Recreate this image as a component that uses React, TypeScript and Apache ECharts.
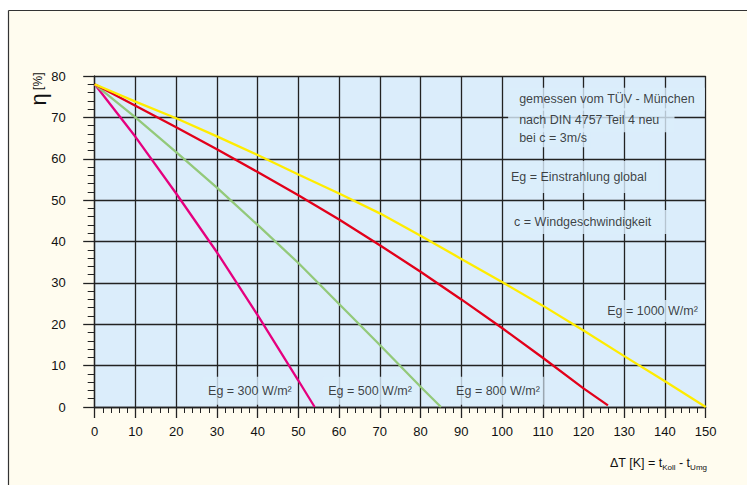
import React, { useEffect, useRef } from "react";
import * as echarts from "echarts";

// ---- data ----
const dT300 = [0, 10, 20, 30, 40, 50, 54];
const eta300 = [78, 65.3, 51.6, 37.4, 22.2, 6.4, 0];

const dT500 = [0, 10, 20, 30, 40, 50, 60, 70, 80, 85];
const eta500 = [78, 70, 61.6, 53, 44, 34.8, 24.9, 15, 4.9, 0];

const dT800 = [0, 10, 20, 30, 40, 50, 60, 70, 80, 90, 100, 110, 120, 126];
const eta800 = [78, 72.8, 67.6, 62.3, 56.8, 51.2, 45.3, 39.1, 32.7, 26.0, 19.1, 11.9, 4.5, 0.4];

const dT1000 = [0, 10, 20, 30, 40, 50, 60, 70, 80, 90, 100, 110, 120, 130, 140, 150];
const eta1000 = [78, 73.8, 69.8, 65.4, 60.9, 56.2, 51.6, 46.8, 41.4, 35.8, 30.2, 24.5, 18.5, 12.3, 6.2, 0];

const seriesNames = ["Eg = 300 W/m²", "Eg = 500 W/m²", "Eg = 800 W/m²", "Eg = 1000 W/m²"];

const noteTexts = [
  "bei c = 3m/s",
  "nach DIN 4757 Teil 4 neu",
  "gemessen vom TÜV - München",
  "Eg = Einstrahlung global",
  "c = Windgeschwindigkeit",
  "Eg = 1000 W/m²",
  "Eg = 300 W/m²",
  "Eg = 500 W/m²",
  "Eg = 800 W/m²",
];
// anchor (left edge, vertical centre of the label box) in data units
const noteAnchorX = [101.5, 101.5, 101.5, 100.7, 101.0, 124.1, 26.6, 56.1, 87.5];
const noteAnchorY = [65.1, 69.3, 74.4, 55.6, 44.7, 23.2, 3.9, 3.9, 3.9];

const xMin = 0, xMax = 150, xStep = 10;
const yMin = 0, yMax = 80, yStep = 10;

const FONT = "'Liberation Sans', Arial, sans-serif";
const PLOT_BG = "#dbedfb";
const PAGE_BG = "#fffcef";
const GRID = "#222222";
const TEXT = "#111111";

const colors = ["#e5007e", "#93c97a", "#e2001a", "#ffec00"];

const notePadding: number[][] = [
  [2, 4, 1, 11],
  [2, 15, 6, 11],
  [5, 10, 2, 11],
  [12, 12, 4, 6],
  [6, 19, 2, 8],
  [4, 7, 2, 7],
  [7, 4, 5, 5],
  [7, 4, 5, 5],
  [7, 4, 5, 5],
];

export default function App() {
  const ref = useRef<HTMLDivElement>(null);
  useEffect(() => {
    document.body.style.margin = "0";
    const chart = echarts.init(ref.current!, undefined, { renderer: "svg" });
    const curveX = [dT300, dT500, dT800, dT1000];
    const curveY = [eta300, eta500, eta800, eta1000];
    const lineSeries = curveX.map((xs, i) => ({
      type: "line",
      name: seriesNames[i],
      data: xs.map((x, j) => [x, curveY[i][j]]),
      showSymbol: false,
      symbol: "none",
      lineStyle: { color: colors[i], width: 2.3 },
      z: 5,
    }));
    const noteData = noteTexts.map((t, i) => ({
      value: [noteAnchorX[i], noteAnchorY[i]],
      label: { padding: notePadding[i] },
      name: t,
    }));
    chart.setOption({
      animation: false,
      backgroundColor: "#ffffff",
      textStyle: { fontFamily: FONT },
      graphic: [
        {
          type: "rect",
          z: -100,
          silent: true,
          shape: { x: 8, y: 10, width: 739, height: 475 },
          style: { fill: PAGE_BG },
        },
        {
          type: "line",
          z: -99,
          silent: true,
          shape: { x1: 8.5, y1: 10.5, x2: 747, y2: 10.5 },
          style: { stroke: "#333", lineWidth: 1.2 },
        },
        {
          type: "line",
          z: -99,
          silent: true,
          shape: { x1: 8.5, y1: 10.5, x2: 8.5, y2: 485 },
          style: { stroke: "#333", lineWidth: 1.2 },
        },
        {
          type: "text",
          x: 38,
          y: 89,
          rotation: Math.PI / 2,
          silent: true,
          style: {
            text: "{e|η} {p|[%]}",
            align: "center",
            verticalAlign: "middle",
            rich: {
              e: { fontSize: 22, fontFamily: FONT, fill: TEXT },
              p: { fontSize: 12, fontFamily: FONT, fill: TEXT },
            },
          },
        },
        {
          type: "text",
          x: 707,
          y: 463,
          silent: true,
          style: {
            text: "{n|ΔT [K] = t}{s|Koll}{n| - t}{s|Umg}",
            align: "right",
            verticalAlign: "middle",
            rich: {
              n: { fontSize: 12.5, lineHeight: 14, verticalAlign: "top", fontFamily: FONT, fill: TEXT },
              s: { fontSize: 8, lineHeight: 8, padding: [7, 0, 0, 0], verticalAlign: "top", fontFamily: FONT, fill: TEXT },
            },
          },
        },
      ],
      grid: {
        left: 94.7,
        top: 76,
        right: 41.3,
        bottom: 78,
        show: true,
        backgroundColor: PLOT_BG,
        borderWidth: 0,
      },
      xAxis: {
        type: "value",
        min: xMin,
        max: xMax,
        interval: xStep,
        axisLine: { show: true, lineStyle: { color: GRID, width: 1.3 } },
        axisTick: { show: true, length: 11, lineStyle: { color: GRID, width: 1.3 } },
        minorTick: { show: true, splitNumber: 5, length: 6, lineStyle: { color: GRID, width: 1 } },
        splitLine: { show: true, lineStyle: { color: GRID, width: 1.3 } },
        axisLabel: { color: TEXT, fontSize: 13, margin: 18, fontFamily: FONT },
      },
      yAxis: {
        type: "value",
        min: yMin,
        max: yMax,
        interval: yStep,
        axisLine: { show: true, lineStyle: { color: GRID, width: 1.3 } },
        axisTick: { show: true, length: 11.5, lineStyle: { color: GRID, width: 1.3 } },
        minorTick: { show: true, splitNumber: 5, length: 7, lineStyle: { color: GRID, width: 1 } },
        splitLine: { show: true, lineStyle: { color: GRID, width: 1.3 } },
        axisLabel: { color: TEXT, fontSize: 13, margin: 29, fontFamily: FONT },
      },
      series: [
        {
          type: "scatter",
          name: "notes",
          symbolSize: 0,
          silent: true,
          z: 3,
          data: noteData,
          label: {
            show: true,
            position: "right",
            distance: 0,
            formatter: (p: any) => p.name,
            color: TEXT,
            fontSize: 12.5,
            lineHeight: 16,
            fontFamily: FONT,
            backgroundColor: PLOT_BG,
          },
        },
        ...lineSeries,
      ],
    });
    return () => chart.dispose();
  }, []);
  return <div ref={ref} style={{ width: 747, height: 485 }} />;
}
